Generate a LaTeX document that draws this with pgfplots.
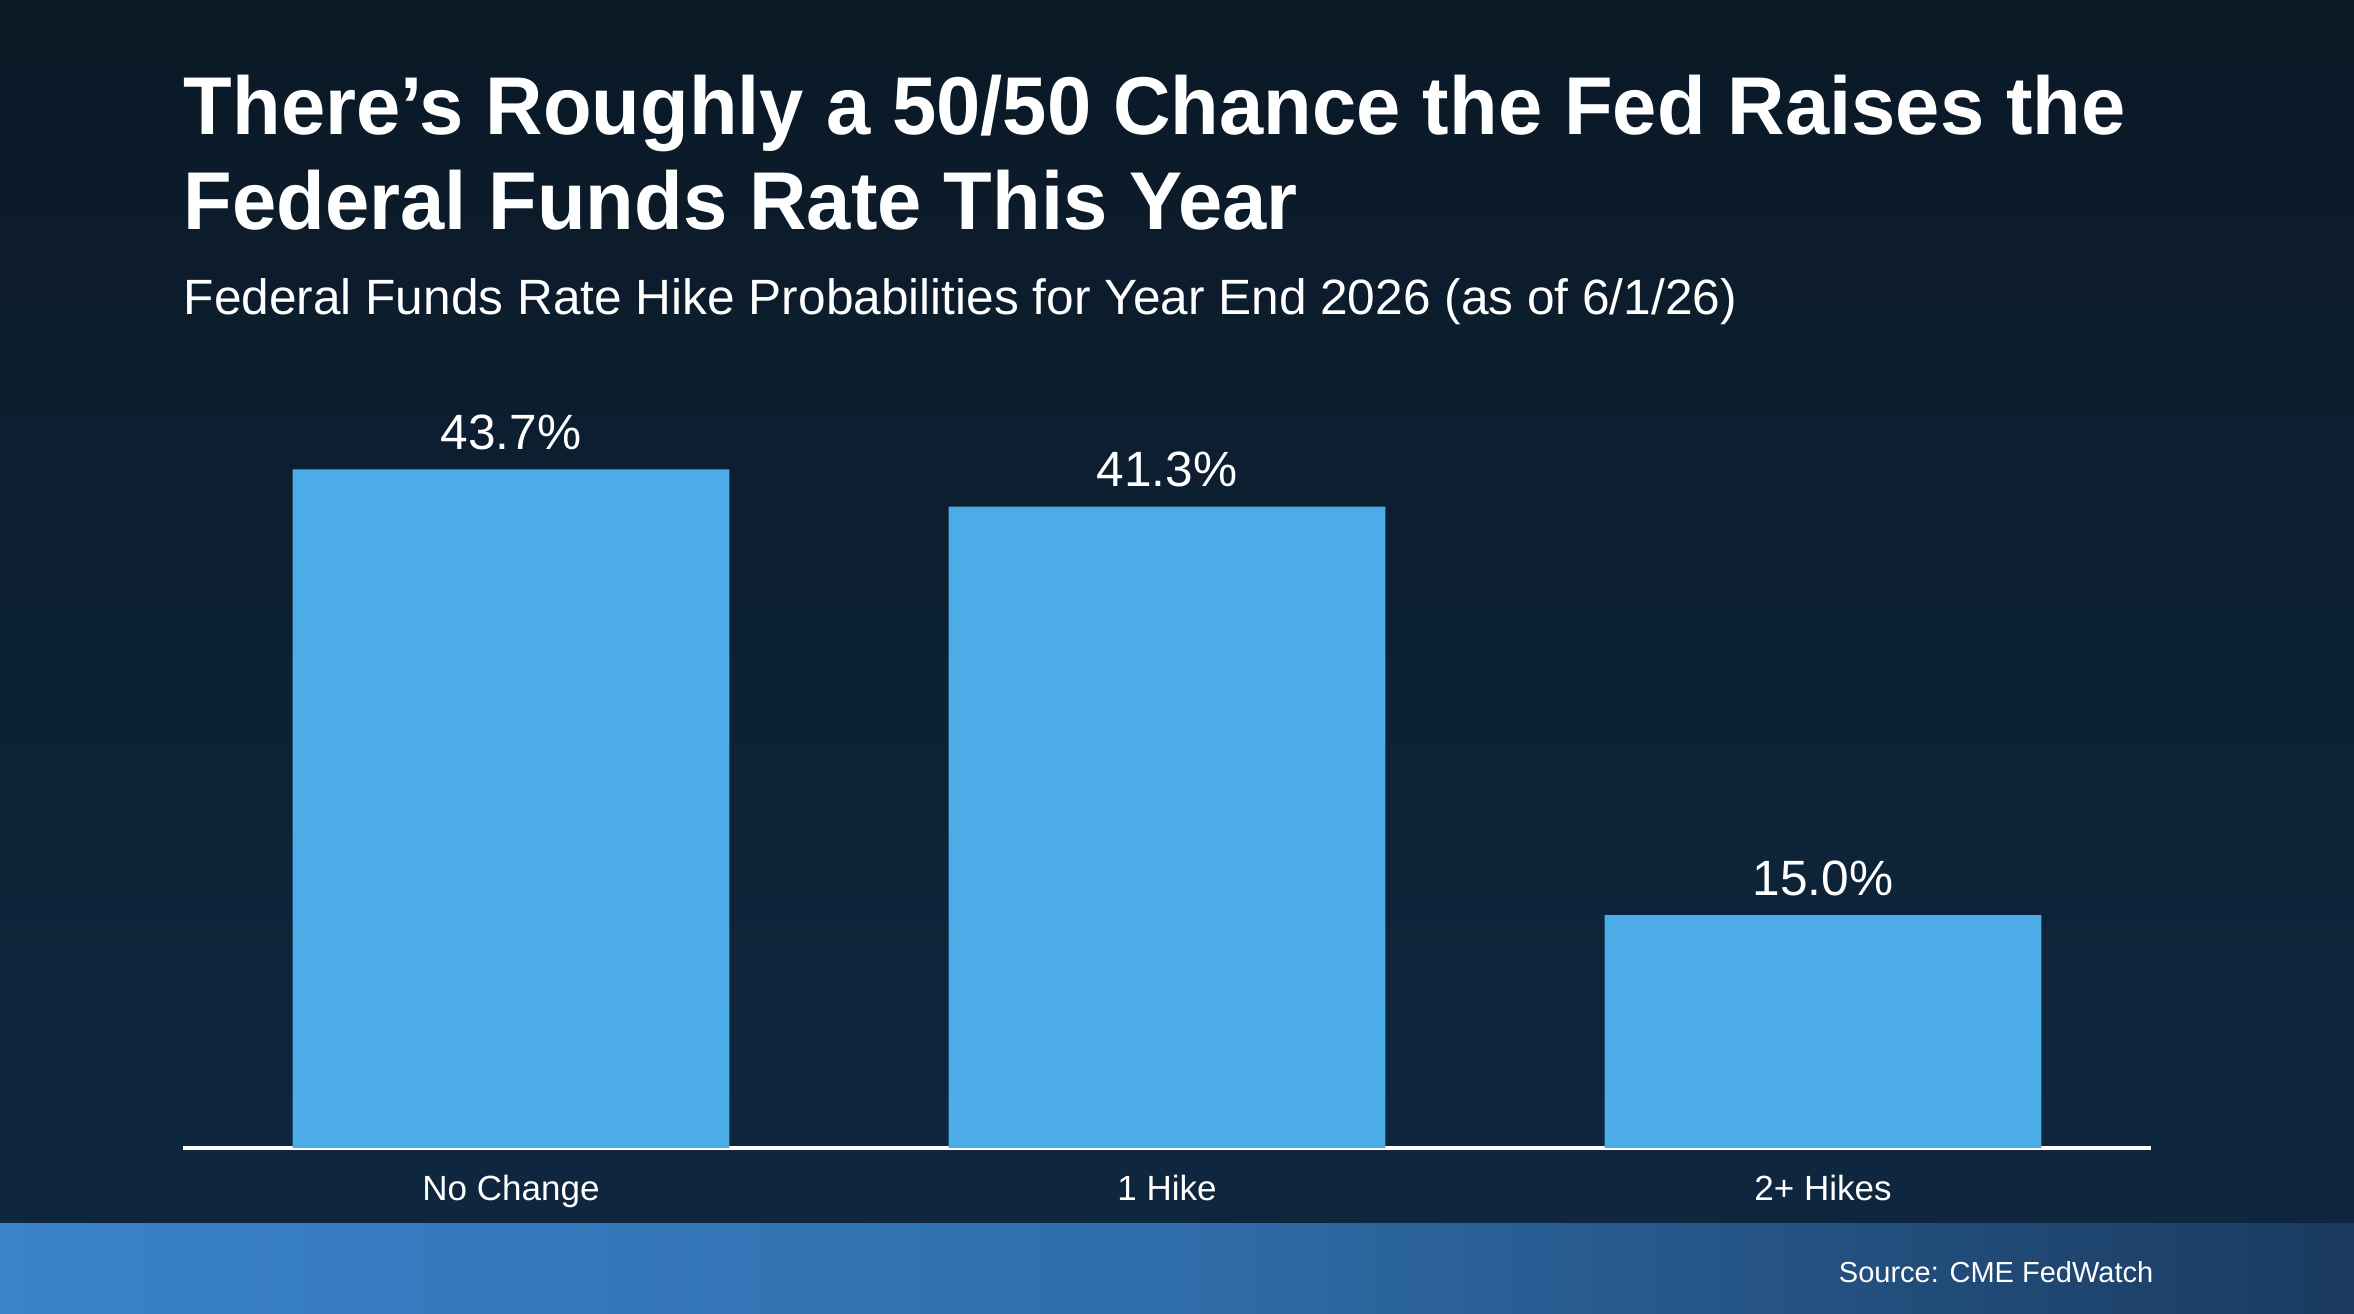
\documentclass[border=0pt]{standalone}
\usepackage{pgfplots}
\pgfplotsset{compat=1.18}
\usepackage{fontspec}
\setmainfont{Liberation Sans}
\newfontfamily\titlefont[FakeStretch=0.97]{Liberation Sans Bold}
\definecolor{bgtop}{HTML}{0B1926}
\definecolor{bgbot}{HTML}{0E2841}
\definecolor{barc}{HTML}{4CACE8}
\definecolor{bandL}{HTML}{3A82CA}
\definecolor{bandM}{HTML}{2F6DAA}
\definecolor{bandR}{HTML}{1A3A5F}
\begin{document}
\begin{tikzpicture}
\shade[top color=bgtop, bottom color=bgbot] (0,0) rectangle (588.5pt,328.5pt);
\shade[left color=bandL, right color=bandR, middle color=bandM] (0,0) rectangle (588.5pt,22.5pt);
\begin{axis}[
 at={(45.75pt,41.5pt)}, anchor=south west,
 scale only axis, width=492pt, height=194.1pt,
 xmin=-0.5, xmax=2.5, ymin=0, ymax=50,
 axis x line=bottom, axis y line=none,
 x axis line style={white, line width=0.9pt, -},
 xtick={0,1,2}, xticklabels={No Change,1 Hike,2+ Hikes},
 major tick length=0pt,
 xticklabel style={font=\fontsize{8.75}{10}\selectfont, text=white, anchor=base, yshift=-13.25pt},
 ytick=\empty,
 ybar, bar width=0.666,
 point meta=explicit symbolic,
 nodes near coords={\pgfplotspointmeta\%},
 every node near coord/.append style={font=\fontsize{12.4}{15}\selectfont, text=white, anchor=base, yshift=5pt, inner sep=0pt},
 clip=false,
]
\addplot[fill=barc, draw=none] coordinates {(0,43.7) [43.7] (1,41.3) [41.3] (2,15.0) [15.0]};
\end{axis}
\node[anchor=base west, inner sep=0pt, text=white, font=\titlefont\fontsize{20.5}{24}\selectfont] at (45.75pt,294.75pt) {There’s Roughly a 50/50 Chance the Fed Raises the};
\node[anchor=base west, inner sep=0pt, text=white, font=\titlefont\fontsize{20.5}{24}\selectfont] at (45.75pt,271pt) {Federal Funds Rate This Year};
\node[anchor=base west, inner sep=0pt, text=white, font=\fontsize{12.4}{14}\selectfont] at (45.75pt,249.75pt) {Federal Funds Rate Hike Probabilities for Year End 2026 (as of 6/1/26)};
\node[anchor=base east, inner sep=0pt, text=white, font=\fontsize{7.25}{9}\selectfont] at (538.5pt,7.75pt) {Source: CME FedWatch};
\pgfresetboundingbox
\path (0,0) rectangle (588.5pt,328.5pt);
\end{tikzpicture}
\end{document}
